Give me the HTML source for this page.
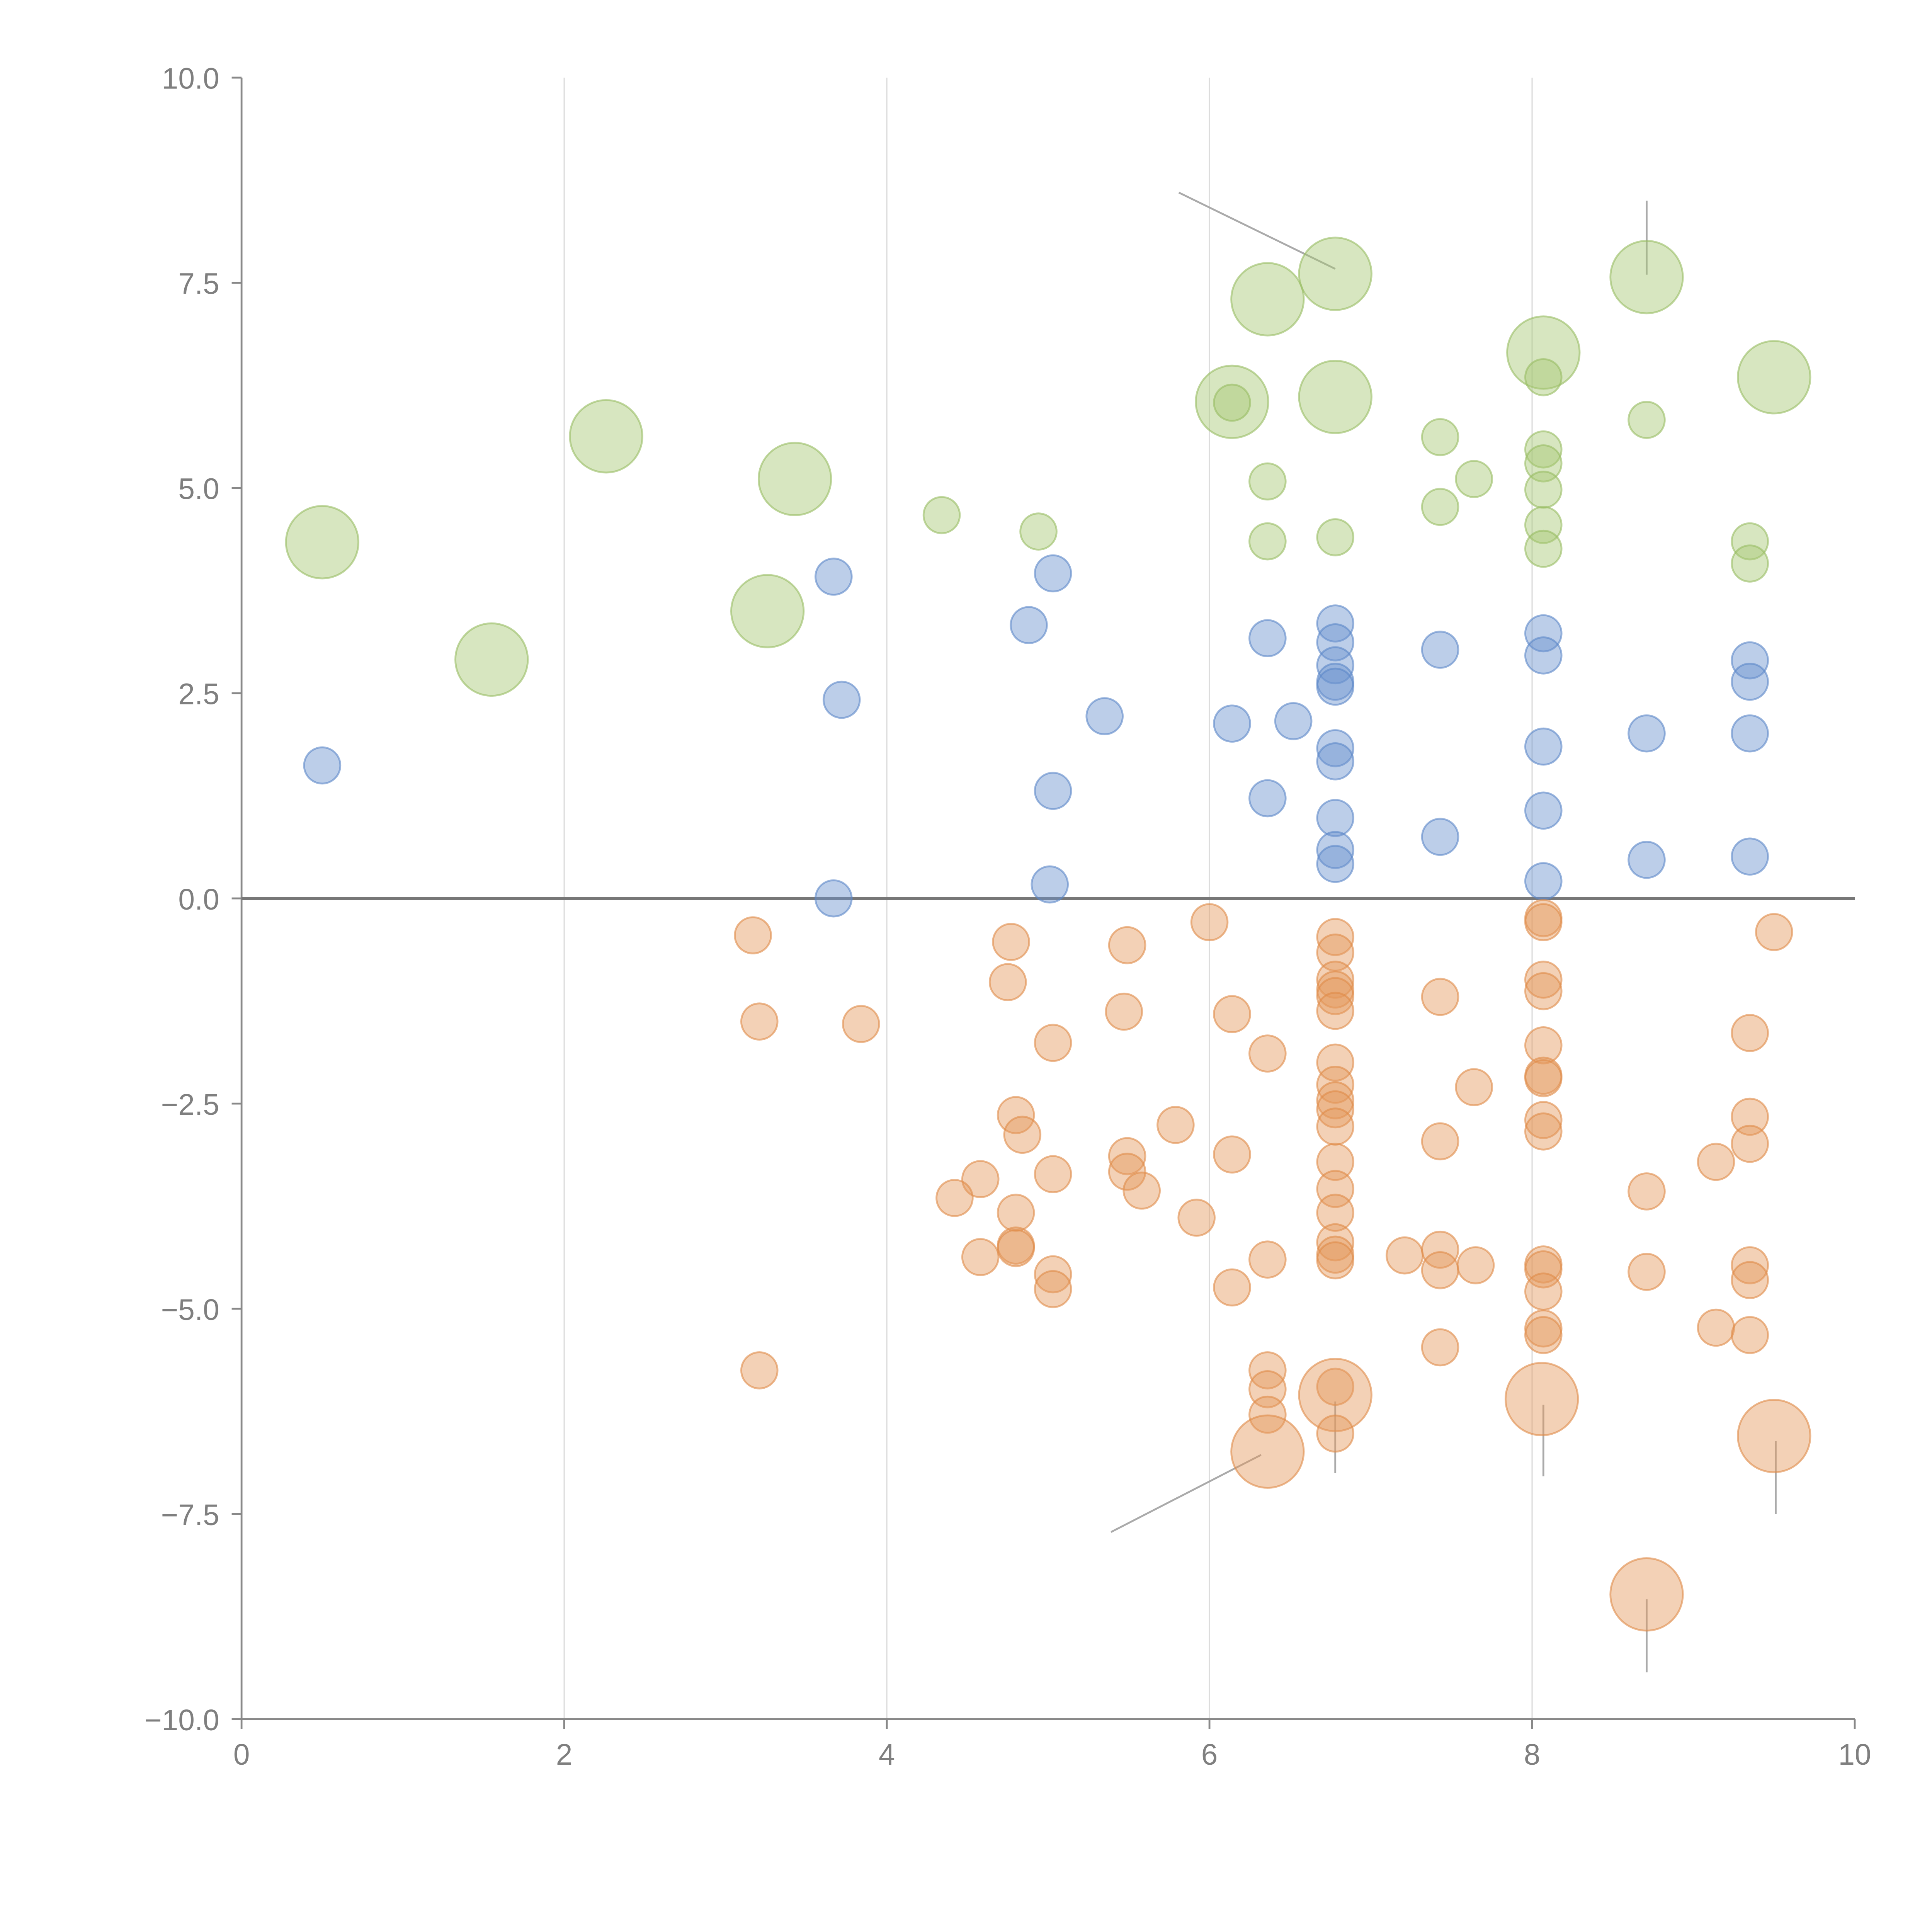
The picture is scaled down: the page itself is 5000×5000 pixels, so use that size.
<!DOCTYPE html>
<html><head><meta charset="utf-8"><style>
html,body{margin:0;padding:0;background:#fff;}
svg{display:block;}
text{font-family:"Liberation Sans",Arial,sans-serif;fill:#7f7f7f;}
</style></head><body>
<svg id="chart" width="5000" height="5000" viewBox="0 0 1567.7 1567.7" xmlns="http://www.w3.org/2000/svg">
<g id="grid"></g>
<g id="axes"></g>
<g id="annot"></g>
<g id="marks"></g>
</svg>
<script>
const xTicks=[0,2,4,6,8,10];
const yTicks=[10,7.5,5,2.5,0,-2.5,-5,-7.5,-10];
const yTickLabels=["10.0","7.5","5.0","2.5","0.0","\u22122.5","\u22125.0","\u22127.5","\u221210.0"];

const greenX=[0.50,1.55,2.26,3.43,3.26,4.34,4.94,6.14,6.14,6.36,6.36,6.36,6.78,6.78,6.78,7.43,7.43,7.64,8.07,8.07,8.07,8.07,8.07,8.07,8.07,8.71,8.71,9.50,9.35,9.35];
const greenY=[4.34,2.91,5.63,5.11,3.50,4.67,4.47,6.05,6.04,7.30,5.08,4.35,7.61,6.11,4.40,5.62,4.77,5.11,6.65,6.35,5.47,5.30,4.98,4.55,4.26,7.57,5.83,6.35,4.35,4.08];
const greenSize=[4,4,4,4,4,1,1,4,1,4,1,1,4,4,1,1,1,1,4,1,1,1,1,1,1,4,1,4,1,1];

const blueX=[0.50,3.67,3.72,3.67,4.88,5.03,5.35,5.03,5.01,6.14,6.52,6.36,6.36,6.78,6.78,6.78,6.78,6.78,6.78,6.78,6.78,6.78,6.78,7.43,7.43,8.07,8.07,8.07,8.07,8.07,8.71,8.71,9.35,9.35,9.35,9.35];
const blueY=[1.62,3.92,2.42,0.00,3.33,3.96,2.22,1.31,0.17,2.13,2.16,3.17,1.22,3.35,3.12,2.84,2.64,2.58,1.83,1.67,0.98,0.59,0.42,3.03,0.75,3.23,2.96,1.85,1.07,0.21,2.01,0.47,2.90,2.64,2.01,0.51];

const orangeX=[3.17,3.21,3.84,3.21,4.77,4.75,4.80,4.84,4.58,4.42,4.58,4.80,4.80,4.80,5.03,5.03,5.03,5.03,5.49,5.47,5.49,5.49,5.58,5.79,5.92,6.00,6.14,6.14,6.14,6.36,6.36,6.36,6.36,6.36,6.36,6.78,6.78,6.78,6.78,6.78,6.78,6.78,6.78,6.78,6.78,6.78,6.78,6.78,6.78,6.78,6.78,6.78,6.78,6.78,6.78,7.21,7.43,7.43,7.43,7.43,7.43,7.64,7.65,8.07,8.07,8.07,8.07,8.07,8.07,8.07,8.07,8.07,8.07,8.07,8.07,8.07,8.07,8.06,8.71,8.71,8.71,9.14,9.14,9.35,9.35,9.35,9.35,9.35,9.35,9.50,9.50];
const orangeY=[-0.45,-1.50,-1.53,-5.75,-0.53,-1.02,-2.64,-2.88,-3.42,-3.65,-4.37,-3.83,-4.23,-4.26,-1.76,-3.36,-4.58,-4.76,-0.57,-1.38,-3.14,-3.33,-3.56,-2.76,-3.89,-0.29,-1.41,-3.12,-4.74,-1.89,-4.40,-5.75,-5.98,-6.29,-6.74,-0.47,-0.66,-0.99,-1.11,-1.19,-1.37,-2.00,-2.27,-2.46,-2.57,-2.78,-3.21,-3.54,-3.83,-4.19,-4.34,-4.41,-5.95,-6.05,-6.52,-4.35,-1.20,-2.96,-4.28,-4.53,-5.47,-2.30,-4.47,-0.24,-0.29,-0.99,-1.13,-1.79,-2.16,-2.19,-2.70,-2.84,-4.46,-4.52,-4.79,-5.24,-5.32,-6.10,-3.57,-4.55,-8.48,-3.21,-5.23,-1.64,-2.66,-2.99,-4.47,-4.65,-5.32,-0.41,-6.55];
const orangeSize=[1,1,1,1,1,1,1,1,1,1,1,1,1,1,1,1,1,1,1,1,1,1,1,1,1,1,1,1,1,1,1,1,1,1,4,1,1,1,1,1,1,1,1,1,1,1,1,1,1,1,1,1,1,4,1,1,1,1,1,1,1,1,1,1,1,1,1,1,1,1,1,1,1,1,1,1,1,4,1,1,4,1,1,1,1,1,1,1,1,1,4];

const annX1=[5.81,8.71,5.39,6.78,8.07,8.71,9.51];
const annY1=[8.60,8.50,-7.72,-6.13,-6.17,-8.54,-6.61];
const annX2=[6.78,8.71,6.32,6.78,8.07,8.71,9.51];
const annY2=[7.67,7.60,-6.78,-7.00,-7.04,-9.43,-7.50];

const X0=196,X1=1505,Y0=1395,Y1=63;
function sx(v){return X0+(v-0)/(10-0)*(X1-X0);}
function sy(v){return Y0-(v+10)/20*(Y0-Y1);}
const NS="http://www.w3.org/2000/svg";
function mk(tag,parent,attrs){const e=document.createElementNS(NS,tag);for(const k in attrs)e.setAttribute(k,attrs[k]);parent.appendChild(e);return e;}
const grid=document.getElementById('grid'),axes=document.getElementById('axes'),marks=document.getElementById('marks'),annot=document.getElementById('annot');

xTicks.forEach(t=>{
  if(t>0&&t<10){const g=mk('line',grid,{x1:sx(t),x2:sx(t),y1:Y1,y2:Y0,stroke:'#dcdcdc','stroke-width':1});
  
  }
  const tk=mk('line',axes,{x1:sx(t),x2:sx(t),y1:Y0,y2:Y0+8,stroke:'#888','stroke-width':1.5});
  
  
  const tx=mk('text',axes,{x:sx(t),y:Y0+37,'text-anchor':'middle','font-size':24});
  tx.textContent=String(t);
  
  
});
yTicks.forEach((t,i)=>{
  const tk=mk('line',axes,{x1:X0-8,x2:X0,y1:sy(t),y2:sy(t),stroke:'#888','stroke-width':1.5});
  
  
  const tx=mk('text',axes,{x:X0-18,y:sy(t)+9,'text-anchor':'end','font-size':24});
  tx.textContent=yTickLabels[i];
  
  
});
const ya=mk('line',axes,{x1:X0,x2:X0,y1:Y1,y2:Y0,stroke:'#888','stroke-width':1.5});


const xa=mk('line',axes,{x1:X0,x2:X1,y1:Y0,y2:Y0,stroke:'#888','stroke-width':1.5});


const zl=mk('line',axes,{x1:X0,x2:X1,y1:sy(0),y2:sy(0),stroke:'#777','stroke-width':2.5});



annX1.forEach((v,i)=>{
  const l=mk('line',annot,{x1:sx(v),y1:sy(annY1[i]),x2:sx(annX2[i]),y2:sy(annY2[i]),stroke:'#aaa','stroke-width':1.5});
  
  
});

function series(xs,ys,sizes,fill,stroke,name){
  xs.forEach((v,i)=>{
    const s=sizes?sizes[i]:1;
    const c=mk('circle',marks,{cx:sx(v),cy:sy(ys[i]),r:14.7*Math.sqrt(s),fill:fill,'fill-opacity':0.45,stroke:stroke,'stroke-opacity':0.6,'stroke-width':1.5});
    
    
  });
}
series(greenX,greenY,greenSize,'#a6c873','#97bd62','green-bubble');
series(blueX,blueY,null,'#6b93cf','#5c87c8','blue-bubble');
series(orangeX,orangeY,orangeSize,'#e59a5e','#e08a48','orange-bubble');
</script>
</body></html>
